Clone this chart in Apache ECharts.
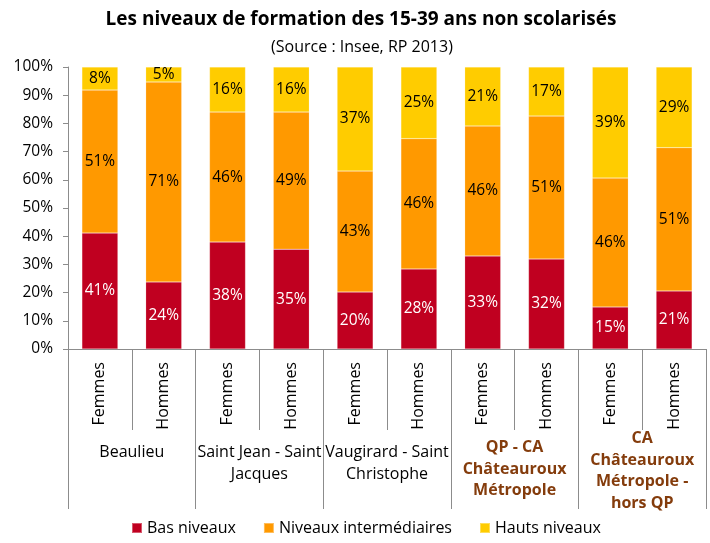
<!DOCTYPE html>
<html>
<head>
<meta charset="utf-8">
<script src="https://cdn.jsdelivr.net/npm/echarts@6/dist/echarts.min.js"></script>
<style>html,body{margin:0;padding:0;background:#fff}#c{width:710px;height:543px}</style>
</head>
<body>
<div id="c"></div>
<script>
var categories = ['Femmes','Hommes','Femmes','Hommes','Femmes','Hommes','Femmes','Hommes','Femmes','Hommes'];
var groups = ['Beaulieu','Saint Jean - Saint\nJacques','Vaugirard - Saint\nChristophe','QP - CA\nChâteauroux\nMétropole','CA\nChâteauroux\nMétropole -\nhors QP'];
var basNiveaux = [41.1, 23.8, 37.9, 35.4, 20.2, 28.4, 33.0, 31.9, 14.9, 20.6];
var niveauxInter = [50.7, 70.9, 46.1, 48.6, 42.9, 46.2, 46.1, 50.7, 45.7, 50.8];
var hautsNiveaux = [8.2, 5.3, 16.0, 16.0, 36.9, 25.4, 20.9, 17.4, 39.4, 28.6];
var yTicks = [0,10,20,30,40,50,60,70,80,90,100];

var FONT = '"Open Sans", "Noto Sans", sans-serif';
var FS = 16;
var axisGray = '#8c8c8c';
var chart = echarts.init(document.getElementById('c'), null, {renderer:'canvas'});

function mkSeries(name, data, color, labelColor){
  return {
    name: name, type: 'bar', stack: 'total', data: data,
    barWidth: 36,
    itemStyle: {color: color, borderColor: 'rgba(255,255,255,0.35)', borderWidth: 0.5},
    label: {show: true, position: 'inside', color: labelColor, fontFamily: FONT, fontSize: 15.5,
      formatter: function(p){ return Math.round(p.value) + '%'; }},
    emphasis: {disabled: true}
  };
}

var groupData = groups.map(function(g, i){
  var ts = {padding: [14,0,0,0]};
  if (i === 3) ts = {color:'#843c0c', fontWeight:'bold', padding:[9,0,0,0]};
  if (i === 4) ts = {color:'#843c0c', fontWeight:'bold', padding:[0,0,0,0]};
  return {value: g, textStyle: ts};
});

chart.setOption({
  animation: false,
  title: [{
    text: 'Les niveaux de formation des 15-39 ans non scolarisés',
    left: 356, textAlign: 'center', top: 5,
    textStyle: {fontFamily: FONT, fontSize: 19, fontWeight: 'bold', color: '#000'}
  }, {
    text: '(Source : Insee, RP 2013)',
    left: 357, textAlign: 'center', top: 34,
    textStyle: {fontFamily: FONT, fontSize: FS, fontWeight: 'normal', color: '#000'}
  }],
  legend: {
    bottom: 2, left: 126, itemWidth: 10, itemHeight: 10, itemGap: 27,
    icon: 'rect',
    textStyle: {fontFamily: FONT, fontSize: FS, color: '#000'},
    data: ['Bas niveaux','Niveaux intermédiaires','Hauts niveaux']
  },
  grid: {left: 68, right: 4, top: 67, bottom: 194, containLabel: false},
  xAxis: [
    {
      type: 'category', data: categories, position: 'bottom', gridIndex: 0,
      axisLine: {lineStyle: {color: axisGray}},
      axisTick: {show: true, length: 81, interval: 0, lineStyle: {color: axisGray}},
      axisLabel: {rotate: 90, interval: 0, margin: 13, fontFamily: FONT, fontSize: FS, color: '#000'}
    },
    {
      type: 'category', data: groupData, position: 'bottom', gridIndex: 0, offset: 0,
      axisLine: {show: false},
      axisTick: {show: true, length: 160, interval: 0, lineStyle: {color: axisGray}},
      axisLabel: {interval: 0, margin: 79, fontFamily: FONT, fontSize: FS, color: '#000', lineHeight: 21.5, verticalAlign: 'top'}
    }
  ],
  yAxis: {
    type: 'value', min: 0, max: 100, interval: 10,
    axisLine: {show: true, lineStyle: {color: axisGray}},
    axisTick: {show: true, length: 5, lineStyle: {color: axisGray}},
    splitLine: {show: false},
    axisLabel: {formatter: '{value}%', fontFamily: FONT, fontSize: 15.5, color: '#000', margin: 15}
  },
  series: [
    mkSeries('Bas niveaux', basNiveaux, '#c00020', '#fff'),
    mkSeries('Niveaux intermédiaires', niveauxInter, '#ff9900', '#000'),
    mkSeries('Hauts niveaux', hautsNiveaux, '#ffcc00', '#000')
  ]
});
</script>
</body>
</html>
